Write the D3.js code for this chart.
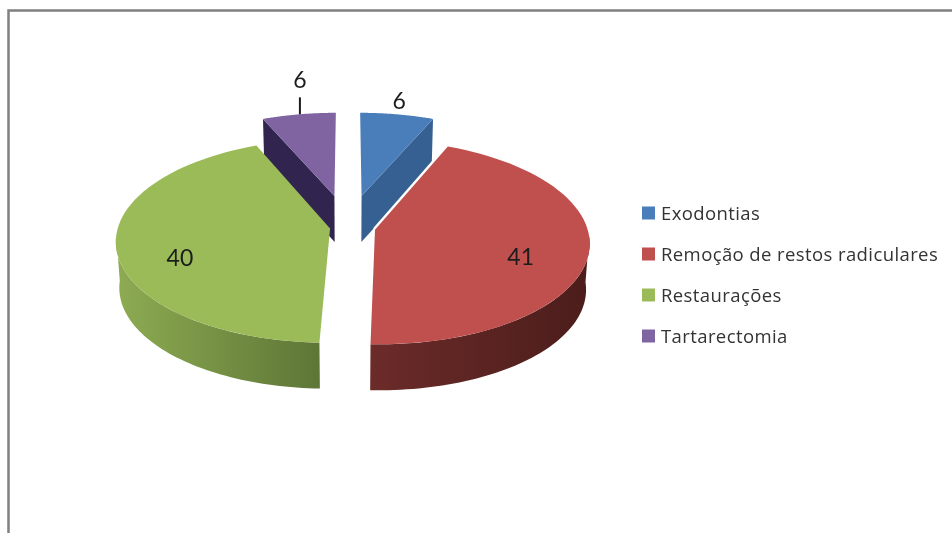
<!DOCTYPE html>
<html><head><meta charset="utf-8">
<script src="https://cdn.jsdelivr.net/npm/d3@7"></script>
<style>html,body{margin:0;padding:0;background:#fff}svg{display:block;filter:blur(0.4px)}</style>
</head><body><div id="c"></div>
<script>
const categories = ["Exodontias", "Remoção de restos radiculares", "Restaurações", "Tartarectomia"];
const values = [6, 41, 40, 6];
const topColors = ["#4a7ebb", "#c0504d", "#9bbb59", "#8064a2"];
const explode = [0.33, 0.13, 0.086, 0.33];

const W = 952, H = 533;
const cx = 348, cy = 227, B = 212, A = 100, k = 0.12, depth = 46, lowScale = 0.985;
const svg = d3.select("#c").append("svg").attr("width", W).attr("height", H)
  .style("font-family", "'Open Sans', sans-serif");

const defs = svg.append("defs");
function grad(id, x1, x2, c1, c2) {
  const g = defs.append("linearGradient").attr("id", id).attr("gradientUnits", "userSpaceOnUse")
    .attr("x1", x1).attr("x2", x2).attr("y1", 0).attr("y2", 0);
  g.append("stop").attr("offset", 0).attr("stop-color", c1);
  g.append("stop").attr("offset", 1).attr("stop-color", c2);
}
grad("wallRed", 373, 590, "#6b2b29", "#4b1d1b");
grad("wallGreen", 117, 320, "#8dab52", "#5d7636");

const pie = d3.pie().sort(null).value(d => d);
const arcs = pie(values);

function project(slice, theta, r, low) {
  const i = slice.index;
  const mid = (slice.startAngle + slice.endAngle) / 2;
  const X = r * Math.sin(theta) + explode[i] * Math.sin(mid);
  const Z = -r * Math.cos(theta) - explode[i] * Math.cos(mid);
  const s = 1 / (1 - k * Z);
  let x = B * X * s, y = A * Z * s;
  if (low) { x *= lowScale; y += depth; }
  return [cx + x, cy + y];
}
const line = d3.line();
function arcPts(slice, a0, a1, low) {
  return d3.range(0, 61).map(j => project(slice, a0 + (a1 - a0) * j / 60, 1, low));
}
const tau = Math.PI * 2;
const g = svg.append("g");

// cut faces of the two back slices
const cutFace = (slice, theta, fill) => g.append("path")
  .attr("d", line([project(slice, 0, 0, false), project(slice, theta, 1, false),
                   project(slice, theta, 1, true), project(slice, 0, 0, true)]) + "Z")
  .attr("fill", fill);
cutFace(arcs[0], arcs[0].endAngle, "#376092");
cutFace(arcs[3], arcs[3].startAngle, "#31254f");

// outer walls of the two front slices
[[arcs[2], "url(#wallGreen)", Math.max(arcs[2].startAngle, 0), tau * 0.74],
 [arcs[1], "url(#wallRed)", tau * 0.26, arcs[1].endAngle]].forEach(([s, f, a0, a1]) => {
  const pts = arcPts(s, a0, a1, false).concat(arcPts(s, a0, a1, true).reverse());
  g.append("path").attr("d", line(pts) + "Z").attr("fill", f);
});

// white seam between the red slice and the blue wall behind it
g.append("path")
  .attr("d", line([project(arcs[1], 0, 0, false), project(arcs[1], arcs[1].startAngle, 1, false)]))
  .attr("stroke", "#fff").attr("stroke-width", 5).attr("fill", "none");

// top faces
arcs.forEach(s => {
  const pts = [project(s, 0, 0, false)].concat(arcPts(s, s.startAngle, s.endAngle, false));
  g.append("path").attr("d", line(pts) + "Z").attr("fill", topColors[s.index]);
});

// data labels
const textColor = "#1c1c1c";
const fs = 23;
const label = (p, t) => svg.append("text").attr("x", p[0]).attr("y", p[1])
  .attr("text-anchor", "middle").attr("dominant-baseline", "central")
  .style("font-family", "Lato, sans-serif")
  .attr("font-size", fs).attr("fill", textColor).text(t);
const deg = Math.PI / 180;
const rimB = project(arcs[0], (arcs[0].startAngle + arcs[0].endAngle) / 2, 1, false);
const rimP = project(arcs[3], (arcs[3].startAngle + arcs[3].endAngle) / 2, 1, false);
label([rimB[0] + 2, rimB[1] - 14], values[0]);
label(project(arcs[1], 110.7 * deg, 0.706, false), values[1]);
label(project(arcs[2], 248 * deg, 0.734, false), values[2]);
label([rimP[0] + 1, rimP[1] - 35], values[3]);
svg.append("line").attr("x1", rimP[0] + 1).attr("x2", rimP[0] + 1).attr("y1", rimP[1])
  .attr("y2", rimP[1] - 17).attr("stroke", "#1c1c1c").attr("stroke-width", 2);

// legend
const leg = d3.scalePoint().domain(categories).range([213, 336]);
categories.forEach((c, i) => {
  svg.append("rect").attr("x", 642).attr("y", leg(c) - 6.5).attr("width", 13).attr("height", 13)
    .attr("fill", topColors[i]);
  svg.append("text").attr("x", 661).attr("y", leg(c) - 1).attr("dominant-baseline", "central")
    .attr("font-size", 18.5).attr("letter-spacing", 0.4).attr("fill", "#333").text(c);
});

// frame
svg.append("path").attr("d", `M8.5 ${H}V10.5H${W}`).attr("fill", "none")
  .attr("stroke", "#808080").attr("stroke-width", 2.5);
</script></body></html>
